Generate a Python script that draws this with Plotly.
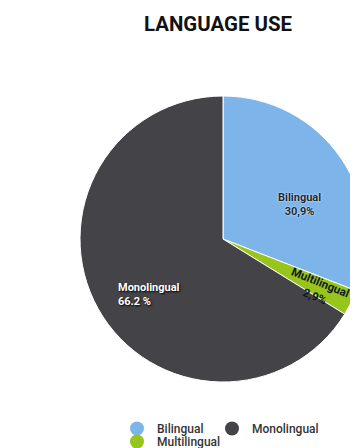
import math
import plotly.graph_objects as go

# ---- data ----
categories = ["Bilingual", "Multilingual", "Monolingual"]
values = [30.9, 2.9, 66.2]
value_labels = ["30,9%", "2,9%", "66.2 %"]
colors = ["#7db5ea", "#97c51c", "#434348"]
legend_order = ["Bilingual", "Monolingual", "Multilingual"]

# figure size (page body adds an 8px offset; the window clips the overflow)
W, H = 366, 440
OFF = 8  # page margin offset
# pie geometry in screen pixels (layout choice)
cx_s, cy_s, R = 223, 239, 143
cx, cy = cx_s - OFF, cy_s - OFF


def px_to_paper(xs, ys):
    return (xs - OFF) / W, (H - (ys - OFF)) / H


fig = go.Figure()
fig.add_trace(go.Pie(
    labels=categories, values=values, sort=False, direction="clockwise", rotation=0,
    marker=dict(colors=colors, line=dict(color="white", width=1)),
    textinfo="none", hoverinfo="label+value", showlegend=False,
    domain=dict(x=[(cx - R) / W, min(1, (cx + R) / W)],
                y=[(H - (cy + R)) / H, (H - (cy - R)) / H]),
))

# legend placement (screen px of each legend box's top-left)
legend_pos = {"Bilingual": ("legend", 117, 414),
              "Monolingual": ("legend2", 212, 414),
              "Multilingual": ("legend3", 117, 427)}

for name in legend_order:
    i = categories.index(name)
    fig.add_trace(go.Scatter(x=[None], y=[None], mode="markers", name=name,
                             legend=legend_pos[name][0],
                             marker=dict(color=colors[i], size=14, symbol="circle"),
                             showlegend=True, hoverinfo="skip"))

# slice labels positioned from the data angles
label_style = {
    "Bilingual": dict(rf=0.59, da=10, color="#1b2838", shadow="0px 0px 2px white",
                      angle=0, align="center", size=11),
    "Multilingual": dict(rf=0.75, da=1.6, color="#111820", shadow="none",
                         angle=22, align="center", size=11.5),
    "Monolingual": dict(rf=0.645, da=-7.5, color="white", shadow="1px 1px 2px black",
                        angle=0, align="left", size=11),
}
total = sum(values)
cum = 0
for name, v, lab in zip(categories, values, value_labels):
    mid = (cum + v / 2) / total * 360
    cum += v
    st = label_style[name]
    a = math.radians(mid + st["da"])
    xs = cx_s + st["rf"] * R * math.sin(a)
    ys = cy_s - st["rf"] * R * math.cos(a)
    ax, ay = px_to_paper(xs, ys)
    fig.add_annotation(
        x=ax, y=ay, xref="paper", yref="paper", xanchor="center", yanchor="middle",
        text=f"{name}<br>{lab}", showarrow=False, textangle=st["angle"],
        align=st["align"],
        font=dict(family="Roboto", size=st["size"], color=st["color"], weight="bold",
                  shadow=st["shadow"]),
    )

tx, _ = px_to_paper(218, 24)
legends = {}
for name in legend_order:
    key, xs, ys = legend_pos[name]
    lx, ly = px_to_paper(xs, ys)
    legends[key] = dict(orientation="h", x=lx, xanchor="left", y=ly, yanchor="top",
                        font=dict(family="Roboto", size=12, color="#333333", weight=500),
                        itemsizing="trace", bgcolor="rgba(0,0,0,0)")

fig.update_layout(
    width=W, height=H,
    margin=dict(l=0, r=0, t=0, b=0, autoexpand=False),
    paper_bgcolor="white", plot_bgcolor="white",
    title=dict(text="<b>LANGUAGE USE</b>", x=tx, xanchor="center", y=1 - (24 - OFF) / H,
               yanchor="middle", xref="paper", yref="container",
               font=dict(family="Roboto", size=20.4, color="#111111")),
    xaxis=dict(visible=False), yaxis=dict(visible=False),
    showlegend=True,
    **legends,
)

fig.write_html("out.html")
